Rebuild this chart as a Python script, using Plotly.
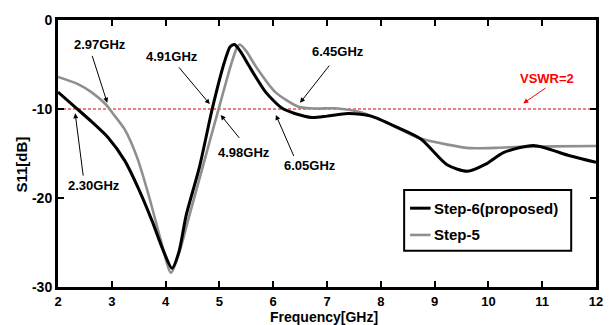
import plotly.graph_objects as go

# ---- data ----
step6_freq = [2.0, 2.34, 2.62, 2.93, 3.24, 3.5, 3.75, 3.95, 4.12, 4.25, 4.38, 4.63, 4.87, 5.09, 5.2, 5.28,
              5.4, 5.55, 5.86, 6.16, 6.4, 6.72, 7.0, 7.39, 7.82, 8.32, 8.75, 9.24, 9.61, 9.95, 10.28, 10.84,
              11.51, 12.0]
step6_s11 = [-8.1, -9.9, -11.4, -13.2, -15.8, -19.0, -22.6, -25.8, -27.9, -26.0, -22.0, -16.5, -9.9, -4.8,
             -3.0, -2.75, -3.6, -5.15, -8.1, -9.9, -10.5, -10.95, -10.8, -10.5, -10.8, -12.1, -13.4, -16.3,
             -17.0, -16.2, -14.9, -14.1, -15.25, -16.0]

step5_freq = [2.0, 2.37, 2.62, 2.9, 3.02, 3.24, 3.48, 3.7, 3.9, 4.1, 4.25, 4.44, 4.69, 4.99, 5.21, 5.32,
              5.38, 5.5, 5.67, 6.04, 6.47, 6.8, 7.15, 7.64, 8.13, 8.68, 9.24, 9.67, 10.2, 10.59, 11.2, 12.0]
step5_s11 = [-6.4, -7.2, -8.1, -9.55, -10.5, -12.3, -15.6, -20.0, -24.5, -28.4, -26.2, -22.0, -16.5, -9.9,
             -5.15, -3.2, -2.75, -3.5, -5.15, -8.1, -9.74, -9.95, -9.92, -10.4, -11.6, -13.2, -14.0, -14.4,
             -14.35, -14.26, -14.2, -14.15]

vswr_freq = [2, 12]
vswr_level = [-10, -10]

x_ticks = [2, 3, 4, 5, 6, 7, 8, 9, 10, 11, 12]
y_ticks = [0, -10, -20, -30]

labels = ["2.97GHz", "2.30GHz", "4.91GHz", "4.98GHz", "6.05GHz", "6.45GHz"]
label_pos = [(2.78, -2.76), (2.675, -18.56), (4.12, -4.05), (5.454, -14.89), (6.69, -16.3), (7.205, -3.50)]
arrow_tail = [(2.627, -3.86), (2.472, -17.65), (4.224, -5.15), (5.393, -13.42), (6.394, -15.44), (7.064, -4.96)]
arrow_head = [(2.915, -9.30), (2.319, -10.48), (4.821, -9.45), (5.024, -10.67), (6.049, -10.67), (6.499, -9.30)]

vswr_label = "VSWR=2"
vswr_label_pos = (11.08, -6.62)
vswr_tail = (11.09, -7.53)
vswr_head = (10.648, -9.37)

legend_names = ["Step-6(proposed)", "Step-5"]

FONT = "Liberation Sans, Arial, sans-serif"
BLACK = "#000000"
GRAY = "#8f8f8f"
RED = "#ff0000"

fig = go.Figure()
fig.add_trace(go.Scatter(x=vswr_freq, y=vswr_level, mode="lines",
                         line=dict(color="#e00000", width=1, dash="3px,2px"), showlegend=False, hoverinfo="skip"))
fig.add_trace(go.Scatter(x=step5_freq, y=step5_s11, mode="lines", name=legend_names[1],
                         line=dict(color=GRAY, width=2.6, shape="spline", smoothing=0.7), showlegend=False))
fig.add_trace(go.Scatter(x=step6_freq, y=step6_s11, mode="lines", name=legend_names[0],
                         line=dict(color=BLACK, width=3, shape="spline", smoothing=0.7), showlegend=False))

annos = []
for t, (tx, ty), (ax, ay), (hx, hy) in zip(labels, label_pos, arrow_tail, arrow_head):
    annos.append(dict(x=tx, y=ty, xref="x", yref="y", text="<b>%s</b>" % t, showarrow=False,
                      xanchor="center", yanchor="middle",
                      font=dict(family=FONT, size=13, color=BLACK)))
    annos.append(dict(x=hx, y=hy, ax=ax, ay=ay, xref="x", yref="y", axref="x", ayref="y", text="",
                      showarrow=True, arrowhead=2, arrowsize=1, arrowwidth=1, arrowcolor=BLACK))
annos.append(dict(x=vswr_label_pos[0], y=vswr_label_pos[1], xref="x", yref="y",
                  text="<b>%s</b>" % vswr_label, showarrow=False, xanchor="center", yanchor="middle",
                  font=dict(family=FONT, size=13, color=RED)))
annos.append(dict(x=vswr_head[0], y=vswr_head[1], ax=vswr_tail[0], ay=vswr_tail[1], xref="x", yref="y",
                  axref="x", ayref="y", text="", showarrow=True, arrowhead=2, arrowsize=1, arrowwidth=1,
                  arrowcolor=RED))

# axis titles
annos.append(dict(x=0.494, y=-0.111, xref="paper", yref="paper", text="<b>Frequency[GHz]</b>",
                  xanchor="center", yanchor="middle",
                  showarrow=False, font=dict(family=FONT, size=14, color=BLACK)))
annos.append(dict(x=-0.068, y=0.46, xref="paper", yref="paper", text="<b>S11[dB]</b>", textangle=-90,
                  xanchor="center", yanchor="middle",
                  showarrow=False, font=dict(family=FONT, size=15, color=BLACK)))

# manual legend
shapes = [dict(type="rect", xref="paper", yref="paper", x0=0.6434, x1=0.9539, y0=0.136, y1=0.3629,
               line=dict(color=BLACK, width=2), fillcolor="white", layer="above")]
leg_y = [0.2952, 0.1949]
leg_col = [BLACK, GRAY]
leg_w = [3, 2.6]
for name, yy, c, w in zip(legend_names, leg_y, leg_col, leg_w):
    shapes.append(dict(type="line", xref="paper", yref="paper", x0=0.6544, x1=0.6925, y0=yy, y1=yy,
                       line=dict(color=c, width=w), layer="above"))
    annos.append(dict(x=0.6956, y=yy, xref="paper", yref="paper", text="<b>%s</b>" % name,
                      xanchor="left", yanchor="middle", showarrow=False,
                      font=dict(family=FONT, size=15, color=BLACK)))

fig.update_layout(
    width=615, height=325,
    margin=dict(l=58, r=15, t=15, b=38),
    paper_bgcolor="white", plot_bgcolor="white",
    annotations=annos, shapes=shapes,
    font=dict(family=FONT, size=14, color=BLACK),
)
fig.update_xaxes(range=[2, 12], tickvals=x_ticks, ticktext=["<b>%d</b>" % v for v in x_ticks],
                 showgrid=False, zeroline=False, showline=True, linewidth=3, linecolor=BLACK,
                 mirror="allticks", ticks="inside", ticklen=6, tickwidth=2, tickcolor=BLACK,
                 tickfont=dict(family=FONT, size=13, color=BLACK))
fig.update_yaxes(range=[-30, 0], tickvals=y_ticks, ticktext=["<b>%d</b>" % v for v in y_ticks],
                 showgrid=False, zeroline=False, showline=True, linewidth=3, linecolor=BLACK,
                 mirror="allticks", ticks="inside", ticklen=6, tickwidth=2, tickcolor=BLACK,
                 tickfont=dict(family=FONT, size=14, color=BLACK))

fig.write_html("out.html")
